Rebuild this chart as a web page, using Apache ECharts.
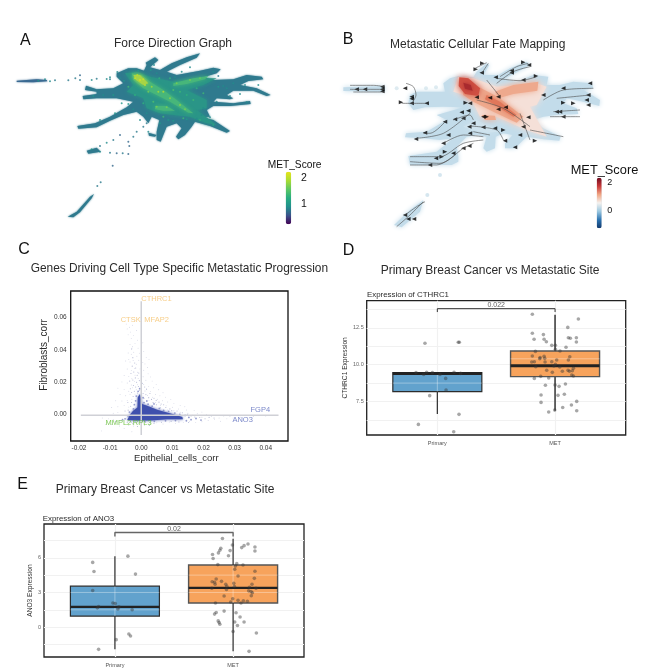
<!DOCTYPE html>
<html><head><meta charset="utf-8">
<style>html,body{margin:0;padding:0;background:#fff}#c{width:648px;height:668px}</style>
<script src="https://cdn.jsdelivr.net/npm/echarts@6/dist/echarts.min.js"></script>
</head><body><div id="c"></div>
<script>
// ---------- data: panel D ----------
const groupLabels = ['Primary', 'MET'];
const cthrc1Ticks = [7.5, 10, 12.5];
const cthrc1Grid = [6.25, 7.5, 8.75, 10, 11.25, 12.5, 13.75];
// [position, whisker low, q1, median, q3, whisker high]
const cthrc1Primary = [1, 6.65, 8.17, 9.40, 9.46, 9.46];
const cthrc1Met = [2, 6.88, 9.19, 9.93, 10.93, 13.39];
const cthrc1PrimaryPts = [[.895,11.45],[1.178,11.52],[1.187,11.52],[.819,9.46],[.884,9.34],[.909,9.48],[.958,9.46],[1.023,9.34],[1.142,9.48],[1.198,9.41],[1.071,9.07],[1.074,8.28],[.935,7.9],[1.184,6.63],[.839,5.95],[1.139,5.45]];
const cthrc1MetPts = [[1.807,13.42],[2.198,13.1],[2.108,12.53],[1.807,12.13],[1.901,12.04],[1.822,11.72],[1.907,11.72],[1.926,11.56],[2.113,11.83],[2.13,11.79],[2.181,11.83],[2.181,11.54],[1.972,11.31],[2.003,11.31],[2.093,11.18],[2.003,11.04],[2.042,10.93],[1.833,10.9],[1.807,10.59],[1.907,10.57],[1.873,10.48],[1.87,10.41],[1.912,10.43],[2.125,10.54],[2.113,10.32],[2.014,10.32],[1.802,10.18],[1.824,10.2],[1.915,10.18],[1.972,10.2],[2.003,10.02],[1.99,9.91],[1.836,9.86],[2.04,9.84],[1.929,9.62],[1.977,9.48],[2.062,9.55],[2.11,9.62],[2.122,9.55],[2.156,9.75],[2.147,9.59],[2.142,9.3],[2.156,9.23],[1.878,9.21],[1.824,9.07],[1.946,9.1],[1.918,8.6],[2,8.62],[2.034,8.53],[2.088,8.69],[1.881,7.94],[2.025,7.92],[2.079,7.99],[1.881,7.44],[2.184,7.51],[2.139,7.26],[2.065,7.1],[1.946,6.79],[1.997,6.92],[2.184,6.88]];
const cthrc1Bracket = [[1,13.57],[1,13.8],[2,13.8],[2,13.57]];
const cthrc1P = [[1.5,13.8,'0.022']];
const cthrc1Sheen = [[[.622,8.75],[1.378,8.75]],[[1,8.17],[1,9.4]],[[1.622,10.4],[2.378,10.4]]];
// ---------- data: panel E ----------
const ano3Ticks = [0, 3, 6];
const ano3Grid = [-1.5, 0, 1.5, 3, 4.5, 6, 7.5];
const ano3Primary = [1, -1.92, .96, 1.75, 3.54, 6.14];
const ano3Met = [2, -2.09, 2.09, 3.4, 5.38, 7.64];
const ano3PrimaryPts = [[.812,5.6],[1.11,6.14],[.823,4.81],[1.174,4.59],[.812,3.17],[.983,2.09],[1.003,2.04],[.862,1.78],[.851,1.67],[1.034,1.75],[1.025,1.58],[1.146,1.5],[1.011,-1.08],[1.118,-.59],[1.132,-.76],[.862,-1.92]];
const ano3MetPts = [[1.91,7.67],[1.994,7.1],[2.126,7.19],[2.093,7.05],[2.073,6.88],[2.185,6.93],[2.185,6.59],[1.975,6.62],[1.896,6.82],[1.888,6.65],[1.876,6.42],[1.826,6.28],[1.831,5.94],[1.961,6.17],[1.871,5.41],[2.031,5.49],[2.084,5.38],[2.02,5.29],[2.014,5.01],[2.185,4.84],[2.042,4.42],[2.18,4.22],[1.857,4.16],[1.902,3.96],[1.823,3.93],[1.843,3.88],[1.848,3.71],[1.938,3.71],[2.006,3.79],[2.16,3.71],[1.947,3.54],[1.82,3.37],[1.944,3.25],[2.011,3.51],[2.138,3.45],[2.194,3.37],[2.132,3.14],[2.152,3.08],[2.163,2.97],[2.154,2.72],[1.924,2.69],[1.997,2.46],[2.042,2.32],[2.087,2.29],[2.121,2.24],[1.98,2.18],[1.851,2.09],[2.067,2.09],[1.924,1.39],[1.857,1.27],[1.843,1.13],[2.025,1.25],[2.059,.88],[1.874,.54],[1.882,.4],[1.888,.25],[2.014,.45],[2.093,.45],[2.037,.14],[2,-.37],[2.197,-.51],[2.135,-2.09]];
const ano3Bracket = [[1,7.84],[1,8.18],[2,8.18],[2,7.84]];
const ano3P = [[1.5,8.18,'0.02']];
const ano3Sheen = [[[.624,1.5],[1.376,1.5]],[[.624,3],[1.376,3]],[[1,.96],[1,3.54]],[[1.624,3],[2.376,3]],[[1.624,4.5],[2.376,4.5]],[[2,2.09],[2,5.38]]];
// ---------- data: panel C ----------
const corrXTicks = [-.02,-.01,0,.01,.02,.03,.04];
const corrYTicks = [0,.02,.04,.06];
const corrHLine = [[-.0194,-.0008],[.0441,-.0008]];
const corrVLine = [[0,-.0131],[0,.0702]];
const fibroGenes = [[0,.0716,'CTHRC1'],[-.0066,.0588,'CTSK'],[.001,.0588,'MFAP2']];
const epiGenes = [[.0351,.0025,'FGP4'],[.0293,-.0039,'ANO3']];
const otherGenes = [[-.0115,-.0056,'MMPL2'],[-.0027,-.0056,'RPL3']];
const corrCoreShape = [[-.0045,-.0037],[-.0036,-.0005],[-.0026,.002],[-.0012,.004],[-.0011,.0105],[-.0004,.0125],[.0002,.0062],[.0019,.0052],[.0051,.0026],[.0094,.0003],[.0132,-.0018],[.0134,-.0033],[.0083,-.0033],[.003,-.0041],[-.0013,-.0041]];
const corrHalo = [[-.006,-.0035],[-.0052,-.003],[-.0042,-.0012],[-.0038,.0012],[-.0025,.0032],[-.0022,.0058],[-.0018,.0082],[-.0016,.0112],[-.001,.0141],[-.0005,.0158],[.0006,.0102],[.0009,.0071],[.0022,.0061],[.0035,.0049],[.0058,.0035],[.0072,.0022],[.0088,.0017],[.0108,.0006],[.0124,-.0003],[.0141,-.0009],[.0153,-.0021],[.016,-.0035],[.0145,-.0042],[.011,-.0041],[.0078,-.0042],[.0042,-.0045],[.0012,-.0044],[-.002,-.0042],[.0176,-.0028],[.0192,-.0038],[.0018,.0081],[.0041,.0063]];
const corrSparse = [[-.0048,.056],[-.0038,.054],[-.0035,.051],[-.0028,.0553],[-.0022,.058],[-.0042,.0493],[-.0032,.0471],[-.0025,.049],[-.0015,.052],[-.0012,.046],[-.0036,.0432],[-.0028,.0419],[-.002,.044],[-.001,.041],[.0005,.0443],[-.0042,.038],[-.0032,.0372],[-.0024,.0385],[-.0014,.036],[-.0006,.0379],[.0008,.039],[.0016,.0351],[-.005,.033],[-.0036,.0324],[-.0026,.0333],[-.0016,.031],[-.0008,.0335],[.0012,.0312],[.002,.029],[-.0045,.028],[-.0032,.0272],[-.0022,.0284],[-.0012,.026],[-.0004,.0281],[.0008,.0273],[.0022,.025],[.003,.0231],[-.0055,.024],[-.004,.0233],[-.003,.022],[-.002,.0242],[-.001,.0221],[.0006,.0232],[.0015,.021],[.0035,.0205],[.0048,.0183],[-.0062,.02],[-.0045,.0193],[-.0032,.0181],[-.0022,.0203],[-.0012,.0182],[.0008,.0184],[.0024,.0172],[.004,.0164],[.0056,.0151],[.007,.0132],[-.0075,.0161],[-.0055,.0152],[-.004,.0142],[-.0028,.0163],[-.0016,.0151],[.0012,.0143],[.003,.0141],[.0046,.0122],[.006,.0113],[.0078,.0105],[.0095,.0091],[-.0068,.0122],[-.005,.0114],[-.0036,.0123],[-.002,.0124],[.002,.0115],[.0036,.0105],[.0052,.0092],[.0068,.0083],[.0085,.0075],[.0105,.0065],[.0125,.0052],[.014,.0045],[-.0082,.0083],[-.0062,.0081],[-.0045,.0085],[-.003,.0092],[.0025,.0085],[.0045,.0072],[.0062,.0055],[.008,.0051],[.01,.0042],[.012,.0031],[.0145,.0025],[.017,.0021],[.0195,.0012],[-.0095,.0041],[-.0075,.0045],[-.0055,.0052],[-.004,.0043],[.0085,.0025],[.0105,.002],[.0125,.0011],[.015,.0005],[.018,.0002],[.021,-.0004],[.024,-.001],[.0265,-.0012],[.0285,-.0015],[.032,-.002],[.036,-.0015],[.04,-.0012],[-.011,-.001],[-.009,.0005],[-.0075,.001],[-.0125,-.0025],[-.0105,-.003],[-.009,-.0035],[-.0115,-.0065],[-.0128,-.0105],[-.0095,-.0065],[-.0082,-.0055],[-.007,-.0075],[-.0055,-.009],[-.004,-.007],[-.0025,-.0075],[-.001,-.006],[-.003,-.011],[.001,-.007],[.003,-.006],[.005,-.0055],[.007,-.0062],[.009,-.005],[.011,-.0058],[.0135,-.0052],[.0155,-.0045],[.0175,-.0052],[.0195,-.0048],[.0215,-.004],[.0235,-.0035],[.0255,-.0045],[.0275,-.003],[.0295,-.0025],[.016,-.0015],[.0195,-.002],[.0225,-.0015],[.025,-.0025],[.0005,.032],[.0025,.034],[-.0045,.053],[-.003,.041],[-.004,.034]];
const corrSpikeHaze = [[-.0031,.0405],[-.0027,.0351],[-.0021,.0318],[-.0029,.0298],[-.0018,.0287],[-.0024,.0262],[-.0033,.0252],[-.0013,.0241],[-.0019,.0225],[-.0027,.0212],[-.0008,.0255],[-.0006,.0208],[-.0015,.0198],[-.0037,.0205],[-.0025,.0178],[-.0009,.0171],[-.0018,.0168],[-.0035,.0157],[-.0006,.0148],[-.0022,.0142],[-.0012,.0131],[-.0031,.0134],[.0004,.0192],[.0011,.0168],[.0017,.0155],[.0006,.0128],[.0015,.0121],[.0028,.0128],[.0024,.0102],[.0033,.0091],[.0009,.0098],[.0041,.0098],[.0048,.0085],[.0057,.0074],[.0038,.0071],[.0049,.0058],[.0064,.0062],[.0072,.0058],[.0079,.0041],[.0062,.0039],[.0092,.0032],[.0098,.0021],[.0115,.0019],[.0132,.0008],[.0148,-.0002],[.0164,-.0008],[.0172,-.0019],[.0188,-.0022],[.0205,-.0029],[.0218,-.0021],[.0234,-.0025],[.0014,-.0052],[.0041,-.0058],[.0065,-.0051],[.0096,-.0046],[.0121,-.0049],[.0152,-.0053],[-.0032,-.0051],[-.0045,-.0052],[-.0068,-.0041],[-.0083,-.0046],[-.0028,-.0061],[-.0012,-.0078],[.0026,-.0071],[-.0042,.0024],[-.0052,.0019],[-.0034,.0048],[-.0043,.0072],[-.0031,.0072],[-.0026,.0109]];
// ---------- data: panel A (layout units on a hidden force-directed axis) ----------
const fdgSilhouette = [[350,160],[385,145],[410,145],[432,152],[440,135],[437,128],[465,112],[475,120],[450,142],[480,150],[515,130],[560,112],[600,100],[590,113],[540,135],[500,155],[530,165],[600,152],[640,143],[662,148],[650,160],[610,172],[640,180],[700,178],[740,165],[785,170],[790,178],[745,183],[720,195],[770,205],[812,225],[800,228],[760,212],[700,212],[680,225],[700,235],[690,238],[650,235],[640,245],[700,250],[750,243],[752,252],[690,258],[640,258],[620,270],[630,290],[600,292],[640,300],[690,333],[680,338],[630,318],[585,305],[575,320],[555,345],[535,358],[528,350],[545,325],[530,310],[500,320],[490,345],[482,365],[470,360],[470,335],[478,300],[455,290],[445,310],[430,290],[410,275],[370,285],[330,302],[290,322],[235,326],[232,318],[285,310],[330,290],[380,262],[400,245],[350,235],[290,235],[250,238],[248,228],[290,222],[290,215],[255,210],[258,197],[290,208],[340,205],[370,190],[350,170]];
const fdgLowerBlob = [[260,392],[290,383],[302,395],[265,401]];
const fdgTail = [[203,590],[230,575],[270,530],[282,522],[275,535],[240,577],[220,592]];
const fdgStreak = [[50,182],[110,178],[140,180],[142,184],[100,187],[50,186]];
const fdgMidBlob = [[445,338],[470,345],[465,350],[447,347]];
const fdgTealZone = [[375,160],[410,155],[450,170],[520,185],[620,175],[650,175],[610,195],[560,210],[620,240],[620,265],[590,270],[650,315],[620,310],[570,290],[520,285],[480,280],[440,265],[430,235],[380,215],[400,195]];
const fdgGreenRidge = [[395,160],[425,165],[450,185],[490,210],[530,240],[580,280],[565,278],[510,245],[470,225],[430,205],[400,180]];
const fdgGreenEast = [[520,190],[580,175],[625,168],[615,178],[560,192],[520,198]];
const fdgGreenSouth = [[465,258],[500,258],[525,272],[490,272],[465,268]];
const fdgHotCore = [[400,165],[420,165],[445,190],[430,195],[408,180]];
const fdgScores = [[115,182,1],[135,178,.9],[150,184,.9],[165,181,.8],[205,181,.8],[226,175,.8],[240,166,.7],[240,180,.8],[275,180,.9],[290,176,.8],[320,177,.9],[330,178,.8],[420,300,.9],[430,320,.8],[410,335,.8],[440,310,.8],[400,350,.8],[360,345,.7],[340,360,.8],[320,368,.9],[300,378,.8],[385,365,.7],[388,378,.7],[275,388,1],[300,395,.9],[330,398,.8],[350,400,.7],[368,400,.8],[385,402,.7],[338,437,.7],[302,487,.8],[292,498,.8],[590,296,.9],[630,292,.9],[670,198,.9],[690,228,.9],[740,247,.9],[445,335,.9],[330,172,.9],[352,156,.9],[405,175,2.1],[420,180,2.2],[435,195,2.1],[412,165,2],[430,178,2.1],[475,215,1.9],[490,215,2],[510,235,1.8],[540,255,1.8],[555,268,1.7],[470,260,1.7],[500,262,1.7],[570,180,1.7],[600,175,1.6],[530,190,1.7],[455,200,1.9],[445,215,1.7],[520,210,1.5],[610,220,1.4],[580,240,1.4],[490,290,1.4],[360,175,.9],[372,182,1],[385,150,.8],[415,152,1],[470,160,.9],[525,172,.9],[545,155,.9],[570,142,.9],[640,155,.9],[655,168,.8],[700,190,.9],[735,195,.9],[775,195,.9],[655,200,1],[680,205,.9],[720,222,.9],[650,245,.9],[610,265,.9],[605,285,.9],[560,298,1],[520,302,1],[505,300,1],[480,310,1],[440,280,.9],[400,268,.9],[365,250,1],[340,225,1],[310,225,.9],[280,228,1],[300,300,1],[345,280,1],[385,252,1],[462,135,.9],[452,150,1],[478,175,1.3],[510,175,1.3],[560,225,1.3],[590,205,1.3],[540,215,1.4],[460,245,1.5],[430,250,1.3],[405,225,1.3],[385,200,1.4],[550,295,1.4],[600,300,1.3],[640,315,1.2]];
// ---------- data: panel B (same layout units) ----------
const fateSilhouette = [[340,190],[360,175],[385,168],[430,172],[440,155],[470,130],[478,135],[460,165],[505,165],[540,145],[590,125],[600,135],[555,160],[520,178],[560,185],[610,165],[655,170],[650,195],[690,195],[730,185],[785,190],[790,205],[760,210],[810,240],[808,258],[760,245],[710,235],[700,250],[740,265],[745,282],[680,285],[640,290],[610,300],[640,325],[692,350],[688,362],[640,358],[590,350],[570,370],[555,385],[525,385],[525,370],[548,345],[520,340],[497,350],[495,385],[470,395],[460,385],[470,350],[440,345],[410,350],[380,380],[385,410],[385,425],[365,435],[240,435],[235,408],[320,395],[370,355],[330,360],[280,355],[225,352],[228,340],[290,335],[350,300],[320,285],[400,262],[340,260],[285,262],[250,270],[235,250],[240,225],[260,215],[320,215],[345,215]];
const fateStreak = [[40,202],[165,198],[165,215],[40,213]];
const fateTail = [[192,615],[240,570],[280,540],[270,575],[215,622]];
const fateSpots = [[330,465,.1],[292,525,.1],[200,205,.2],[288,205,.2],[318,202,.2]];
const fatePaleZone = [[385,170],[430,175],[500,200],[620,190],[650,200],[620,255],[600,260],[650,350],[590,330],[500,290],[450,290],[420,230],[370,215]];
const fateGap = [[440,300],[480,322],[505,335],[470,338],[430,330],[400,320]];
const fateOrangeDiag = [[395,180],[445,200],[505,232],[580,290],[560,308],[490,275],[430,245],[400,225]];
const fateOrangeEast = [[495,215],[550,195],[625,185],[622,212],[550,222],[505,235]];
const fateOrangeSouth = [[455,285],[495,287],[498,300],[465,300]];
const fateRedRidge = [[470,225],[510,245],[560,285],[550,290],[500,258],[465,238]];
const fateRedCore = [[388,172],[415,175],[450,205],[445,228],[405,222],[386,198]];
const fateDeepCore = [[400,188],[422,195],[428,212],[405,206]];
const fateStreams = [[[60,196],[130,196],[165,200]],[[60,208],[165,208]],[[70,216],[165,216]],[[228,190],[250,200],[258,225],[245,250]],[[215,250],[290,250]],[[435,145],[470,128]],[[455,160],[475,130]],[[510,170],[560,140],[595,130]],[[500,190],[550,155],[600,140]],[[620,170],[570,182],[500,175]],[[440,240],[520,265],[600,320]],[[470,180],[510,230]],[[640,240],[700,210],[790,205]],[[660,290],[750,290]],[[670,275],[750,270]],[[680,235],[780,225]],[[600,330],[700,350]],[[570,280],[600,360]],[[260,355],[340,340],[420,280]],[[370,300],[420,285],[430,300]],[[420,318],[500,330],[520,360]],[[430,335],[480,345]],[[240,410],[330,410],[400,370],[460,360]],[[240,425],[330,430],[400,385],[430,370]],[[240,435],[320,435],[375,405]],[[340,370],[400,345],[460,350]],[[200,620],[240,585],[280,545]],[[225,585],[260,560],[285,545]],[[350,300],[300,340],[280,340]]];
const fateArrowsLeft = [[157,200],[157,208],[157,214],[105,208],[80,208],[225,205],[245,230],[245,236],[245,250],[290,250],[455,158],[497,172],[545,152],[545,158],[597,135],[580,180],[505,230],[480,233],[440,232],[420,250],[345,305],[395,277],[375,298],[415,272],[400,295],[285,338],[355,345],[258,357],[418,320],[420,340],[460,322],[495,325],[460,290],[527,262],[505,268],[595,292],[580,320],[570,345],[700,205],[780,190],[775,225],[770,240],[775,255],[700,290],[680,275],[690,275],[640,225],[225,585],[235,597],[252,597],[318,415],[300,435],[370,400],[400,385],[418,378],[340,370],[430,310],[525,362],[555,382]];
const fateArrowsRight = [[213,247],[457,130],[580,127],[618,168],[437,148],[730,250],[700,248],[615,362],[520,330],[407,248],[470,290],[345,395],[335,410]];

// ---------- styles and option building ----------
const font = '"Liberation Sans", Arial, sans-serif';
const dark = '#2b2b2b';
const viridis = ['#440154','#3b528b','#21908c','#27ad81','#5dc863','#aadc32','#e8e419'];
const rdbu = ['#123a6e','#2d74b2','#9bc8e0','#f4f1ef','#f0a684','#c8393a','#6f0a1f'];

const grids = [
 {left:0,top:20,width:330,height:220},
 {left:330,top:20,width:318,height:220},
 {left:70.7,top:291,width:217.3,height:150,show:true,borderColor:'#111',borderWidth:1.3},
 {left:366.7,top:300.7,width:259,height:134.3,show:true,borderColor:'#222',borderWidth:1.3},
 {left:44,top:524,width:260,height:135.3,show:true,borderColor:'#222',borderWidth:1.3}
];
const hidden = (i,max,inv)=>({gridIndex:i,type:'value',min:0,max,inverse:!!inv,show:false});
const lightGrid = {show:true,lineStyle:{color:'#f1f1f1',width:1.2}};
const groupX = i=>({gridIndex:i,type:'value',min:.4,max:2.6,axisLine:{show:false},
 axisTick:{show:false,customValues:[1,2]},splitLine:lightGrid,
 axisLabel:{customValues:[1,2],formatter:v=>groupLabels[v-1],fontSize:5.5,color:'#555',fontFamily:font,margin:5}});
const exprY = (i,min,max,ticks,gl,fmt)=>({gridIndex:i,type:'value',min,max,axisLine:{show:false},
 axisTick:{show:false,customValues:gl},splitLine:lightGrid,
 axisLabel:{customValues:ticks,formatter:fmt,fontSize:5.5,color:'#666',fontFamily:font,margin:3}});
const xAxis = [hidden(0,990),hidden(1,954),
 {gridIndex:2,type:'value',min:-.02266,max:.04715,name:'Epithelial_cells_corr',nameLocation:'middle',nameGap:12,
  nameTextStyle:{fontSize:9.5,color:dark,fontFamily:font,padding:[0,6,0,0]},axisLine:{show:false},axisTick:{show:false,customValues:corrXTicks},splitLine:{show:false},
  axisLabel:{customValues:corrXTicks,formatter:v=>v.toFixed(2),fontSize:6.5,color:'#333',fontFamily:font,margin:4}},
 groupX(3),groupX(4)];
const yAxis = [hidden(0,660,true),hidden(1,660,true),
 {gridIndex:2,type:'value',min:-.0168,max:.0766,name:'Fibroblasts_corr',nameLocation:'middle',nameGap:21,nameRotate:90,
  nameTextStyle:{fontSize:10,color:dark,fontFamily:font,padding:[0,0,0,22]},axisLine:{show:false},axisTick:{show:false,customValues:corrYTicks},splitLine:{show:false},
  axisLabel:{customValues:corrYTicks,formatter:v=>v.toFixed(2),fontSize:6.5,color:'#333',fontFamily:font,margin:4}},
 exprY(3,5.23,14.34,cthrc1Ticks,cthrc1Grid,v=>v.toFixed(1)),
 exprY(4,-2.58,8.92,ano3Ticks,ano3Grid,v=>String(v))];
yAxis[3].name='CTHRC1 Expression';yAxis[4].name='ANO3 Expression';
[3,4].forEach(i=>Object.assign(yAxis[i],{nameLocation:'middle',nameRotate:90,nameGap:i===3?15:9,nameTextStyle:{fontSize:6.6,color:'#333',fontFamily:font}}));

const series = [];
const area = (idx,data,color,blur)=>series.push({type:'custom',xAxisIndex:idx,yAxisIndex:idx,data,silent:true,encode:{x:0,y:1},clip:false,
 renderItem:(p,api)=>{ if(p.dataIndex!==0) return null;
  return {type:'polygon',shape:{points:data.map(d=>api.coord(d))},style:{fill:color,shadowBlur:blur||0,shadowColor:color}};}});
const poly = (idx,data,width,color)=>series.push({type:'line',xAxisIndex:idx,yAxisIndex:idx,data,showSymbol:false,silent:true,smooth:.3,lineStyle:{width,color}});
// A
[fdgSilhouette,fdgLowerBlob,fdgTail,fdgStreak,fdgMidBlob].forEach((d,i)=>area(0,d,i===3?'#3a6a92':'#2f7a8e',2));
area(0,fdgTealZone,'#2a9587',4);
[fdgGreenRidge,fdgGreenEast,fdgGreenSouth].forEach(d=>area(0,d,'#47b67a',4));
area(0,fdgHotCore,'#a8d445',4);
const scoreA = series.length;
series.push({type:'scatter',xAxisIndex:0,yAxisIndex:0,data:fdgScores,symbolSize:2,silent:true});
// B
[fateSilhouette,fateStreak,fateTail].forEach(d=>area(1,d,'#c3dcea',5));
area(1,fatePaleZone,'#f5e0d8',6);
area(1,fateGap,'#cfe3ee',5);
[fateOrangeDiag,fateOrangeEast,fateOrangeSouth].forEach(d=>area(1,d,'#eea98d',6));
area(1,fateRedRidge,'#e0775a',5);
area(1,fateRedCore,'#cf4f42',6);
area(1,fateDeepCore,'#a82a2e',4);
fateStreams.forEach(a=>poly(1,a,.6,'#4a4a4a'));
series.push({type:'scatter',xAxisIndex:1,yAxisIndex:1,data:fateArrowsLeft,symbol:'triangle',symbolRotate:90,symbolSize:[4,4.5],silent:true,itemStyle:{color:'#000'}});
series.push({type:'scatter',xAxisIndex:1,yAxisIndex:1,data:fateArrowsRight,symbol:'triangle',symbolRotate:-90,symbolSize:[4,4.5],silent:true,itemStyle:{color:'#000'}});
const scoreB = series.length;
series.push({type:'scatter',xAxisIndex:1,yAxisIndex:1,data:fateSpots,symbolSize:4,silent:true,itemStyle:{opacity:.6}});
// C
const cDot = (data,size,color)=>series.push({type:'scatter',xAxisIndex:2,yAxisIndex:2,data,symbolSize:size,silent:true,itemStyle:{color}});
cDot(corrSparse,.9,'#b4b8d2');
cDot(corrSpikeHaze,1.1,'#a5a9cc');
poly(2,corrHLine,1.5,'#cfd0d6');
poly(2,corrVLine,1.5,'#cfd0d6');
cDot(corrHalo,1.8,'#7a83c2');
area(2,corrCoreShape,'#3f50ad',3);
const geneLabels = (data,color)=>series.push({type:'scatter',xAxisIndex:2,yAxisIndex:2,data,symbolSize:0,silent:true,z:6,
 label:{show:true,position:'right',distance:0,formatter:p=>p.value[2],fontSize:7.5,color,fontFamily:font}});
geneLabels(fibroGenes,'#f5c26b');geneLabels(epiGenes,'#5a6abb');geneLabels(otherGenes,'#5cba2c');
// D, E
const flat = b=>[b[0],b[2],b[2],b[3],b[4],b[4]];
const boxes = (idx,prim,met,primPts,metPts,bracket,p,sheen,halfW)=>{
 series.push({type:'boxplot',xAxisIndex:idx,yAxisIndex:idx,data:[{value:flat(prim),itemStyle:{color:'#62a2cd',borderColor:'#2c2c2c',borderWidth:1.2}},{value:flat(met),itemStyle:{color:'#f7a35c',borderColor:'#555',borderWidth:1.4}}],boxWidth:[89,89],silent:true,z:2});
 sheen.forEach(s=>series.push({type:'line',xAxisIndex:idx,yAxisIndex:idx,data:s,showSymbol:false,silent:true,z:2.5,lineStyle:{color:'rgba(255,255,255,.35)',width:1}}));
 [prim,met].forEach(b=>{
  series.push({type:'line',xAxisIndex:idx,yAxisIndex:idx,data:[[b[0]-halfW,b[3]],[b[0]+halfW,b[3]]],showSymbol:false,silent:true,z:3,lineStyle:{color:'#222',width:idx===3?3:2.4}});
  const col = (idx===3&&b===met)?'#555':'#2c2c2c';
  const w = (idx===3&&b===met)?1.8:1.2;
  series.push({type:'line',xAxisIndex:idx,yAxisIndex:idx,data:[[b[0],b[1]],[b[0],b[2]]],showSymbol:false,silent:true,z:3,lineStyle:{color:col,width:w}});
  if(b[5]>b[4]) series.push({type:'line',xAxisIndex:idx,yAxisIndex:idx,data:[[b[0],b[4]],[b[0],b[5]]],showSymbol:false,silent:true,z:3,lineStyle:{color:col,width:w}});
 });
 series.push({type:'scatter',xAxisIndex:idx,yAxisIndex:idx,data:primPts.concat(metPts),symbolSize:3.6,silent:true,z:4,itemStyle:{color:'rgba(55,55,55,.55)'}});
 series.push({type:'line',xAxisIndex:idx,yAxisIndex:idx,data:bracket,showSymbol:false,silent:true,z:4,lineStyle:{color:idx===3?'#333':'#666',width:idx===3?1:1.4}});
 series.push({type:'scatter',xAxisIndex:idx,yAxisIndex:idx,data:p,symbolSize:0,silent:true,z:5,label:{show:true,position:'top',distance:0,formatter:q=>q.value[2],fontSize:7,color:'#333',fontFamily:font}});
};
boxes(3,cthrc1Primary,cthrc1Met,cthrc1PrimaryPts,cthrc1MetPts,cthrc1Bracket,cthrc1P,cthrc1Sheen,.378);
boxes(4,ano3Primary,ano3Met,ano3PrimaryPts,ano3MetPts,ano3Bracket,ano3P,ano3Sheen,.376);

const t = (text,left,top,size,color)=>({text,left,top,padding:0,textStyle:{fontSize:size,fontWeight:'normal',color:color||dark,fontFamily:font}});
const option = {animation:false,backgroundColor:'#fff',
 title:[t('A',20,32.5,16,'#111'),t('Force Direction Graph',114,38,12),t('MET_Score',267.7,160,10.2,'#111'),
  t('B',342.7,31.3,16,'#111'),t('Metastatic Cellular Fate Mapping',390,39,12),t('MET_Score',570.7,163.6,12.8,'#111'),
  t('C',18.3,242,16,'#111'),t('Genes Driving Cell Type Specific Metastatic Progression',30.7,262.3,11.9),
  t('D',342.7,242.7,16,'#111'),t('Primary Breast Cancer vs Metastatic Site',380.7,264.3,12),t('Expression of CTHRC1',367,291,7.9),
  t('E',17.3,477,16,'#111'),t('Primary Breast Cancer vs Metastatic Site',55.7,484,12),t('Expression of ANO3',42.7,515.3,7.9),
  t('2',301,172.5,10.5,'#111'),t('1',301,199,10.5,'#111'),t('2',607.3,177.8,9,'#111'),t('0',607.3,205.8,9,'#111')],
 grid:grids,xAxis,yAxis,series,
 visualMap:[
  {type:'continuous',seriesIndex:scoreA,dimension:2,min:.26,max:2.24,calculable:false,showLabel:false,left:285.7,top:171.7,padding:0,itemWidth:5.5,itemHeight:52.5,inRange:{color:viridis}},
  {type:'continuous',seriesIndex:scoreB,dimension:2,min:-1.3,max:2.3,calculable:false,showLabel:false,left:596.7,top:177.7,padding:0,itemWidth:5,itemHeight:50.5,inRange:{color:rdbu}}
 ]};
echarts.init(document.getElementById('c'),null,{renderer:'canvas'}).setOption(option);
</script></body></html>
